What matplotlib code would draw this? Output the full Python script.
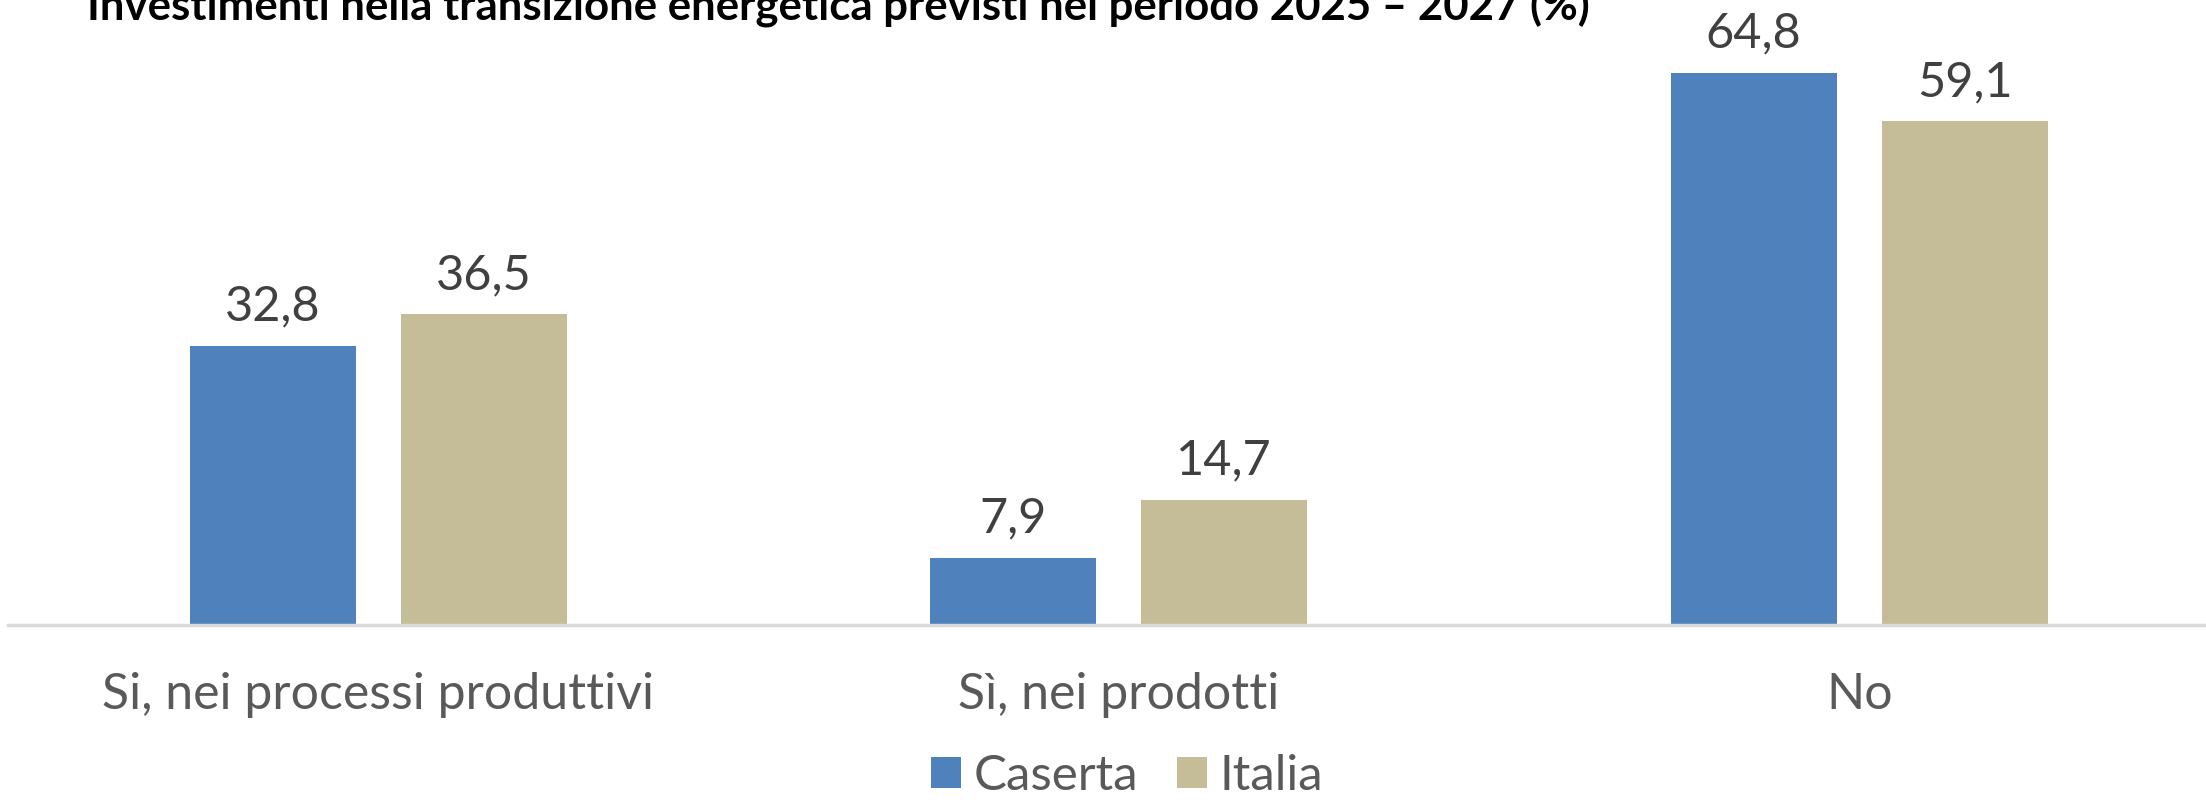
import matplotlib.pyplot as plt
import numpy as np

plt.rcParams['font.family'] = ['Lato', 'DejaVu Sans']

categorie = ['Si, nei processi produttivi', 'Sì, nei prodotti', 'No']
caserta = [32.8, 7.9, 64.8]
italia = [36.5, 14.7, 59.1]
serie = ['Caserta', 'Italia']
titolo = 'Investimenti nella transizione energetica previsti nel periodo 2025 – 2027 (%)'

col_caserta = '#4F81BD'
col_italia = '#C4BD97'

fig = plt.figure(figsize=(22.06, 8), dpi=100)
ax = fig.add_axes([8 / 2206, 175 / 800, 2221.5 / 2206, 70 * 8.52 / 800])

x = np.arange(len(categorie))
w = 0.224
off = 0.1425
b1 = ax.bar(x - off, caserta, w, color=col_caserta, label=serie[0])
b2 = ax.bar(x + off, italia, w, color=col_italia, label=serie[1])

# etichette dei valori sopra le barre, con la virgola decimale
for bars, vals in ((b1, caserta), (b2, italia)):
    for r, v in zip(bars, vals):
        ax.text(r.get_x() + r.get_width() / 2, v + 2.0, f'{v:.1f}'.replace('.', ','),
                ha='center', va='bottom', fontsize=35, color='#404040')

ax.set_xlim(-0.5, 2.5)
ax.set_ylim(0, 70)
ax.set_xticks(x)
ax.set_xticklabels(categorie, fontsize=36, color='#595959')
ax.tick_params(axis='x', length=0, pad=34)
ax.set_yticks([])
for s in ('top', 'right', 'left'):
    ax.spines[s].set_visible(False)
ax.spines['bottom'].set_color('#D9D9D9')
ax.spines['bottom'].set_linewidth(2.5)

fig.text(87 / 2206, 1 - 20 / 800, titolo, ha='left', va='baseline',
         fontsize=31.5, fontweight='bold', color='black')

fig.legend(handles=[b1, b2], labels=serie, loc='center', bbox_to_anchor=(1127 / 2206, 1 - 776 / 800),
           ncol=2, frameon=False, fontsize=35.5, labelcolor='#595959',
           handlelength=0.6, handleheight=0.6, handletextpad=0.25, columnspacing=0.8,
           borderpad=0.1)

fig.savefig('out.png', dpi=100)
